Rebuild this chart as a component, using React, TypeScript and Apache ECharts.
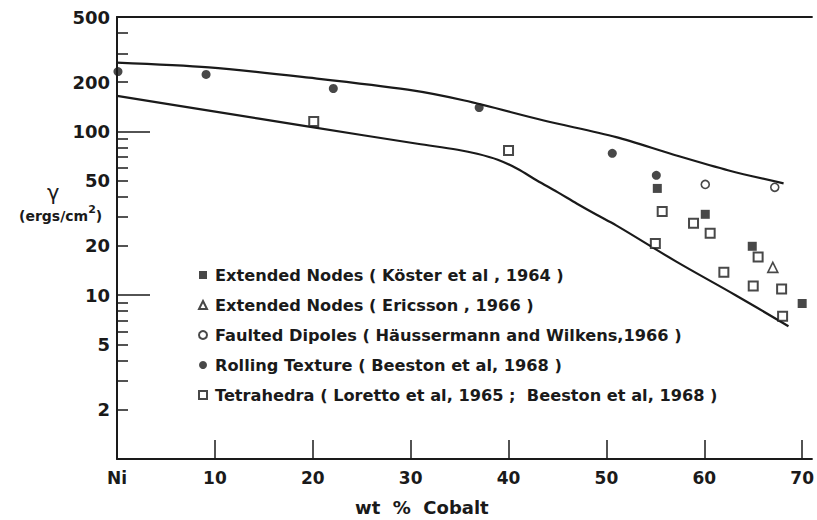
import React, { useEffect, useRef } from "react";
import * as echarts from "echarts";

// ---- data ----
const kosterX = [55.2, 60.1, 64.9, 70.0];
const kosterY = [44.9, 31.2, 19.9, 8.9];
const ericssonX = [67.0];
const ericssonY = [14.8];
const dipolesX = [60.1, 67.2];
const dipolesY = [47.5, 45.6];
const rollingX = [0.1, 9.1, 22.1, 37.0, 50.6, 55.1];
const rollingY = [232, 223, 183, 140, 73.5, 54.0];
const tetraX = [20.1, 40.0, 55.7, 55.0, 58.9, 60.6, 65.5, 62.0, 65.0, 67.9, 68.0];
const tetraY = [115, 76.6, 32.5, 20.7, 27.5, 23.9, 17.1, 13.8, 11.4, 10.9, 7.45];

const upperX = [0, 9.4, 19.6, 29.7, 35.5, 43.6, 51.0, 56.8, 62.5, 68.1];
const upperY = [263, 246, 213, 180, 154.5, 116.7, 92.3, 72.4, 57.8, 48.2];
const lowerX = [0, 9.4, 19.6, 30.7, 34.8, 36.8, 38.9, 40.9, 42.9, 45.0, 47.0, 49.0, 51.0, 57.1, 63.2, 68.6];
const lowerY = [165, 134, 107, 84.1, 77.3, 73.1, 67.2, 59.2, 50.2, 42.6, 36.2, 31.0, 26.7, 16.1, 10.0, 6.47];

const legendNames = [
  "Extended Nodes ( Köster et al , 1964 )",
  "Extended Nodes ( Ericsson , 1966 )",
  "Faulted Dipoles ( Häussermann and Wilkens,1966 )",
  "Rolling Texture ( Beeston et al, 1968 )",
  "Tetrahedra ( Loretto et al, 1965 ;  Beeston et al, 1968 )",
];

const xTickValues = [10, 20, 30, 40, 50, 60, 70];
const xLabelValues = [0, 10, 20, 30, 40, 50, 60, 70];
const yLabelValues = [2, 5, 10, 20, 50, 100, 200, 500];
const yMinorTicks = [2, 3, 4, 5, 6, 7, 8, 9, 20, 30, 40, 50, 60, 70, 80, 90, 200, 300, 400];
const yLongTicks = [10, 100];

const zip = (xs: number[], ys: number[]) => xs.map((x, i) => [x, ys[i]]);

const INK = "#1a1a1a";
const FONT = "DejaVu Sans";

export default function App() {
  const ref = useRef<HTMLDivElement>(null);
  useEffect(() => {
    document.body.style.margin = "0";
    const chart = echarts.init(ref.current!, null, { renderer: "svg" });
    const openStyle = { color: "#fff", borderColor: INK, borderWidth: 2 };
    const option: any = {
      animation: false,
      backgroundColor: "#fff",
      textStyle: { fontFamily: FONT },
      grid: { left: 117, right: 0, top: 17, bottom: 61 },
      legend: {
        orient: "vertical",
        left: 193,
        top: 262,
        itemWidth: 8,
        itemHeight: 8,
        itemGap: 14,
        data: legendNames,
        textStyle: {
          fontFamily: FONT,
          fontSize: 16.2,
          fontWeight: "bold",
          color: INK,
          lineHeight: 16,
          padding: [0, 0, 0, 3],
        },
        selectedMode: false,
      },
      xAxis: [
        {
          type: "value",
          min: 0,
          max: 71,
          position: "bottom",
          axisLine: { show: true, lineStyle: { color: INK, width: 2 } },
          axisTick: {
            show: true,
            inside: true,
            length: 19,
            customValues: xTickValues,
            lineStyle: { color: INK, width: 1.5 },
          },
          axisLabel: {
            customValues: xLabelValues,
            formatter: (v: number) => (v === 0 ? "Ni" : String(v)),
            fontSize: 17,
            fontWeight: "bold",
            color: INK,
            margin: 10,
            fontFamily: FONT,
          },
          splitLine: { show: false },
        },
        {
          type: "value",
          min: 0,
          max: 71,
          position: "top",
          axisLine: { show: true, lineStyle: { color: INK, width: 2 } },
          axisTick: { show: false },
          axisLabel: { show: false },
          splitLine: { show: false },
        },
      ],
      yAxis: [
        {
          type: "log",
          logBase: 10,
          min: 1,
          max: 500,
          position: "left",
          axisLine: { show: true, lineStyle: { color: INK, width: 2 } },
          axisTick: {
            show: true,
            inside: true,
            length: 11,
            customValues: yMinorTicks,
            lineStyle: { color: INK, width: 1.5 },
          },
          axisLabel: {
            customValues: yLabelValues,
            formatter: (v: number) => String(Math.round(v)),
            fontSize: 18,
            fontWeight: "bold",
            color: INK,
            margin: 7,
            fontFamily: FONT,
          },
          splitLine: { show: false },
          minorTick: { show: false },
        },
        {
          type: "log",
          logBase: 10,
          min: 1,
          max: 500,
          position: "left",
          axisLine: { show: false },
          axisTick: {
            show: true,
            inside: true,
            length: 33,
            customValues: yLongTicks,
            lineStyle: { color: INK, width: 1.5 },
          },
          axisLabel: { show: false },
          splitLine: { show: false },
        },
      ],
      series: [
        {
          name: "upper",
          type: "line",
          data: zip(upperX, upperY),
          smooth: 0.3,
          symbol: "none",
          lineStyle: { color: INK, width: 2.2 },
          z: 1,
        },
        {
          name: "lower",
          type: "line",
          data: zip(lowerX, lowerY),
          smooth: 0.35,
          symbol: "none",
          lineStyle: { color: INK, width: 2.2 },
          z: 1,
        },
        {
          name: legendNames[0],
          type: "scatter",
          data: zip(kosterX, kosterY),
          symbol: "rect",
          symbolSize: 9,
          itemStyle: { color: INK },
          z: 3,
        },
        {
          name: legendNames[1],
          type: "scatter",
          data: zip(ericssonX, ericssonY),
          symbol: "triangle",
          symbolSize: 10,
          itemStyle: { color: "#fff", borderColor: INK, borderWidth: 1.6 },
          z: 3,
        },
        {
          name: legendNames[2],
          type: "scatter",
          data: zip(dipolesX, dipolesY),
          symbol: "circle",
          symbolSize: 8,
          itemStyle: { color: "#fff", borderColor: INK, borderWidth: 1.6 },
          z: 3,
        },
        {
          name: legendNames[3],
          type: "scatter",
          data: zip(rollingX, rollingY),
          symbol: "circle",
          symbolSize: 9,
          itemStyle: { color: INK },
          z: 3,
        },
        {
          name: legendNames[4],
          type: "scatter",
          data: zip(tetraX, tetraY),
          symbol: "rect",
          symbolSize: 9,
          itemStyle: openStyle,
          z: 3,
        },
      ],
      graphic: [
        {
          type: "text",
          left: 47,
          top: 182,
          style: { text: "γ", fontSize: 21, fontFamily: FONT, fill: INK },
        },
        {
          type: "text",
          left: 19,
          top: 204,
          style: {
            text: "{a|(ergs/cm}{b|2}{a|)}",
            rich: {
              a: { fontSize: 14, fontWeight: "bold", fontFamily: FONT, fill: INK, lineHeight: 19, verticalAlign: "bottom" },
              b: { fontSize: 11, fontWeight: "bold", fontFamily: FONT, fill: INK, lineHeight: 11, verticalAlign: "top" },
            },
          },
        },
        {
          type: "text",
          left: 355,
          top: 498,
          style: { text: "wt  %  Cobalt", fontSize: 18, fontWeight: "bold", fontFamily: FONT, fill: INK },
        },
      ],
    };
    chart.setOption(option);
    return () => chart.dispose();
  }, []);
  return (
    <div
      ref={ref}
      style={{ position: "fixed", left: 0, top: 0, width: 817, height: 520 }}
    />
  );
}
